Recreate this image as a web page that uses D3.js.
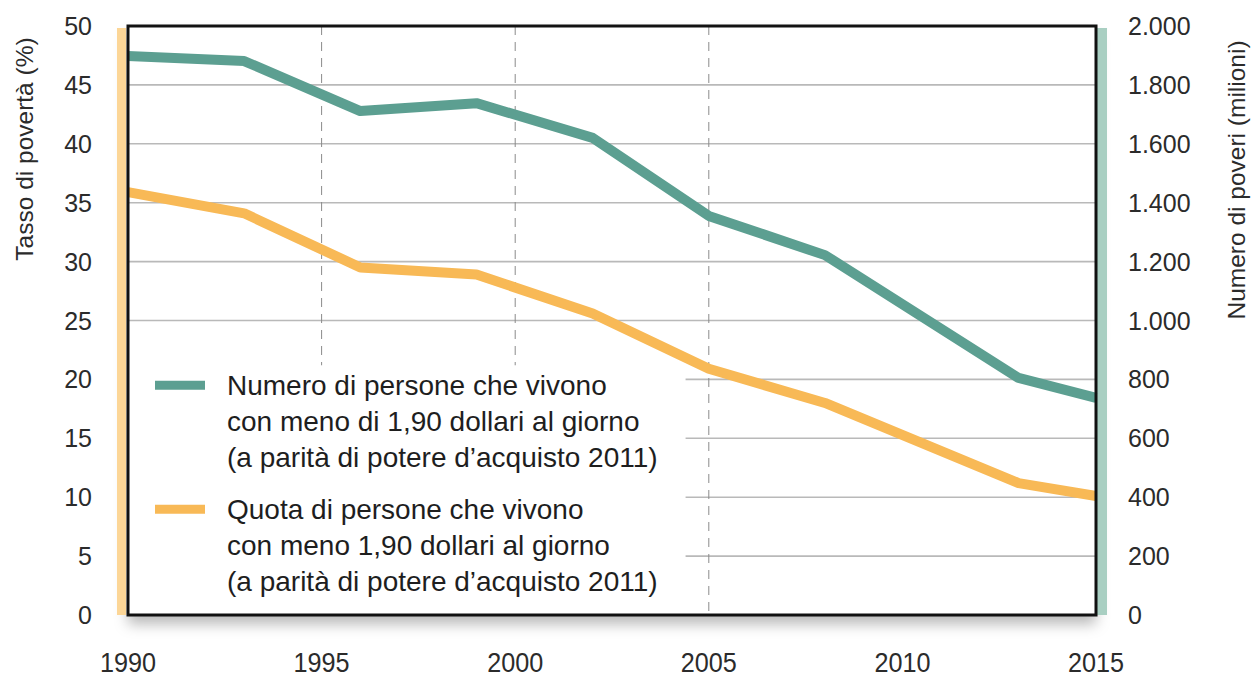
<!DOCTYPE html>
<meta charset="utf-8">
<style>
  body { margin: 0; background: #fff; }
  text { font-family: "Liberation Sans", Arial, sans-serif; fill: #2b2b2b; }
</style>
<script src="https://d3js.org/d3.v7.min.js"></script>
<div id="chart"></div>
<script>
// data
var years = [1990, 1993, 1996, 1999, 2002, 2005, 2008, 2013, 2015];
var numeroPoveri = [1898, 1881, 1711, 1738, 1620, 1355, 1222, 805, 737];   // milioni (asse destro)
var quotaPoveri = [35.9, 34.1, 29.5, 28.9, 25.6, 20.9, 18.0, 11.2, 10.1];  // % (asse sinistro)
var xTicks = [1990, 1995, 2000, 2005, 2010, 2015];
var dashedYears = [1995, 2000, 2005];
var leftTicks = [0, 5, 10, 15, 20, 25, 30, 35, 40, 45, 50];
var rightTicks = [0, 200, 400, 600, 800, 1000, 1200, 1400, 1600, 1800, 2000];
var legendLabels = [
  ["Numero di persone che vivono", "con meno di 1,90 dollari al giorno", "(a parità di potere d\u2019acquisto 2011)"],
  ["Quota di persone che vivono", "con meno 1,90 dollari al giorno", "(a parità di potere d\u2019acquisto 2011)"]
];

var W = 1251, H = 677;
var margin = {top: 26, right: 155, bottom: 62, left: 128},
  width = W - margin.left - margin.right,
  height = H - margin.top - margin.bottom;

var green = "#5c9f91", orange = "#f8b956";

var svg = d3.select("#chart").append("svg")
  .attr("width", W).attr("height", H);

var defs = svg.append("defs");
var f = defs.append("filter").attr("id", "shadow")
  .attr("x", "-5%").attr("y", "-5%").attr("width", "110%").attr("height", "115%");
f.append("feDropShadow").attr("dx", 0).attr("dy", 9).attr("stdDeviation", 7)
  .attr("flood-color", "#000").attr("flood-opacity", 0.28);

var g = svg.append("g").attr("transform", "translate(" + margin.left + "," + margin.top + ")");

var x = d3.scaleLinear().domain([1990, 2015]).range([0, width]);
var yL = d3.scaleLinear().domain([0, 50]).range([height, 0]);
var yR = d3.scaleLinear().domain([0, 2000]).range([height, 0]);

var it = d3.formatLocale({decimal: ",", thousands: ".", grouping: [3], currency: ["", ""]});
var fmtR = it.format(",d");

// plot background with shadow
g.append("rect").attr("width", width).attr("height", height)
  .attr("fill", "#fff").attr("filter", "url(#shadow)");

// coloured side bars
g.append("rect").attr("x", -11).attr("y", yL(50) + 2).attr("width", 9)
  .attr("height", yL(0) - yL(50) - 2).attr("fill", "#fcd697");
g.append("rect").attr("x", width + 1).attr("y", yR(2000) + 2).attr("width", 10)
  .attr("height", yR(0) - yR(2000) - 2).attr("fill", "#a9cfc2");

// horizontal grid
g.selectAll(".hgrid").data(leftTicks.slice(1, -1)).enter().append("line")
  .attr("x1", 0).attr("x2", width)
  .attr("y1", d => yL(d)).attr("y2", d => yL(d))
  .attr("stroke", "#b9b9b9").attr("stroke-width", 1.6);

// vertical dashed lines
g.selectAll(".vgrid").data(dashedYears).enter().append("line")
  .attr("x1", d => x(d)).attr("x2", d => x(d))
  .attr("y1", 0).attr("y2", height)
  .attr("stroke", "#8a8a8a").attr("stroke-width", 1)
  .attr("stroke-dasharray", "9,7");

// legend area (white box covering grid)
var legX = x(1990), legW = x(2004.4) - x(1990), legY = yL(21.2);
g.append("rect").attr("x", legX).attr("y", legY)
  .attr("width", legW).attr("height", height - legY - 2).attr("fill", "#fff");

// lines
var line = d3.line().x((d, i) => x(years[i]));
g.append("path").datum(numeroPoveri)
  .attr("d", line.y(d => yR(d)))
  .attr("fill", "none").attr("stroke", green).attr("stroke-width", 10)
  .attr("stroke-linejoin", "round");
g.append("path").datum(quotaPoveri)
  .attr("d", line.y(d => yL(d)))
  .attr("fill", "none").attr("stroke", orange).attr("stroke-width", 10)
  .attr("stroke-linejoin", "round");

// frame
g.append("rect").attr("width", width).attr("height", height)
  .attr("fill", "none").attr("stroke", "#111").attr("stroke-width", 3);

// left axis labels
g.selectAll(".lt").data(leftTicks).enter().append("text")
  .attr("x", -36).attr("y", d => yL(d)).attr("dy", "0.36em")
  .attr("text-anchor", "end").style("font-size", "25px")
  .text(d => d);

// right axis labels
g.selectAll(".rt").data(rightTicks).enter().append("text")
  .attr("x", width + 32).attr("y", d => yR(d)).attr("dy", "0.36em")
  .attr("text-anchor", "start").style("font-size", "25px")
  .text(d => fmtR(d));

// x labels (condensed look)
g.selectAll(".xt").data(xTicks).enter().append("text")
  .attr("transform", d => "translate(" + x(d) + "," + (height + 57) + ") scale(0.9,1)")
  .attr("text-anchor", "middle").style("font-size", "28px")
  .text(d => d);

// axis titles
svg.append("text")
  .attr("transform", "translate(24,149) rotate(-90)")
  .attr("text-anchor", "middle").attr("dy", "0.35em").style("font-size", "24.5px")
  .text("Tasso di povertà (%)");
svg.append("text")
  .attr("transform", "translate(1236,180) rotate(-90)")
  .attr("text-anchor", "middle").attr("dy", "0.35em").style("font-size", "24.5px")
  .text("Numero di poveri (milioni)");

// legend
var legColors = [green, orange];
var leg = g.selectAll(".leg").data(legendLabels).enter().append("g")
  .attr("transform", (d, i) => "translate(" + (legX + 27) + "," + (yL(19.5) + i * 124) + ")");
leg.append("line").attr("x1", 0).attr("x2", 50).attr("y1", 0).attr("y2", 0)
  .attr("stroke", (d, i) => legColors[i]).attr("stroke-width", 9);
leg.each(function(d) {
  var t = d3.select(this);
  d.forEach(function(s, j) {
    t.append("text").attr("x", 72).attr("y", 10 + j * 36)
      .style("font-size", "28px").style("fill", "#1e1e1e").text(s);
  });
});
</script>
